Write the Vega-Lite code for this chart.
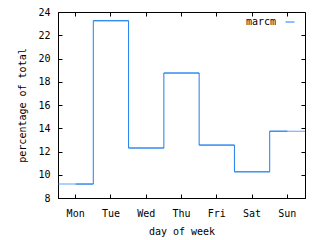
{
  "$schema": "https://vega.github.io/schema/vega-lite/v6.json",
  "autosize": "none",
  "width": 247,
  "height": 186,
  "padding": {"left": 58, "top": 12, "right": 15, "bottom": 42},
  "background": "white",
  "config": {
    "font": "DejaVu Sans Mono",
    "view": {"stroke": "black", "strokeWidth": 1},
    "axis": {
      "labelFont": "DejaVu Sans Mono",
      "titleFont": "DejaVu Sans Mono",
      "labelFontSize": 10,
      "titleFontSize": 10,
      "titleFontWeight": "normal",
      "labelColor": "black",
      "titleColor": "black",
      "domainColor": "black",
      "tickColor": "black",
      "tickWidth": 1,
      "grid": false,
      "tickSize": -4
    },
    "legend": {
      "labelFont": "DejaVu Sans Mono",
      "labelFontSize": 10,
      "labelColor": "black"
    }
  },
  "data": {
    "values": [
      {"day": "Mon", "pct": 9.2},
      {"day": "Tue", "pct": 23.25},
      {"day": "Wed", "pct": 12.3},
      {"day": "Thu", "pct": 18.75},
      {"day": "Fri", "pct": 12.55},
      {"day": "Sat", "pct": 10.25},
      {"day": "Sun", "pct": 13.75}
    ]
  },
  "layer": [
    {
      "encoding": {
        "x": {
          "field": "day", "type": "ordinal", "sort": null,
          "scale": {"type": "band", "paddingInner": 0, "paddingOuter": 0},
          "axis": {"title": "day of week", "labelAngle": 0, "labelPadding": 14, "titlePadding": 8}
        },
        "y": {
          "field": "pct", "type": "quantitative",
          "scale": {"domain": [8, 24], "nice": false, "zero": false},
          "axis": {"title": "percentage of total", "values": [8,10,12,14,16,18,20,22,24], "labelPadding": 12, "titlePadding": 10}
        }
      },
      "layer": [
        {
          "mark": {"type": "line", "interpolate": "step", "strokeWidth": 1},
          "encoding": {
            "color": {
              "datum": "marcm",
              "scale": {"range": ["#1f7fef"]},
              "legend": {
                "title": null,
                "orient": "none",
                "legendX": 227,
                "legendY": 5,
                "symbolType": "stroke",
                "symbolStrokeWidth": 1,
                "symbolSize": 81,
                "labelAlign": "right",
                "labelOffset": -19
              }
            }
          }
        },
        {
          "mark": {"type": "tick", "orient": "horizontal", "size": 35.3, "thickness": 1, "color": "#1f7fef"}
        }
      ]
    },
    {
      "mark": {"type": "tick", "opacity": 0},
      "encoding": {
        "x": {
          "field": "day", "type": "ordinal", "sort": null,
          "axis": {"orient": "top", "labels": false, "title": null, "domain": false}
        },
        "y": {
          "field": "pct", "type": "quantitative",
          "axis": {"orient": "right", "labels": false, "title": null, "domain": false, "values": [8,10,12,14,16,18,20,22,24]}
        }
      }
    }
  ],
  "resolve": {"axis": {"x": "independent", "y": "independent"}}
}
